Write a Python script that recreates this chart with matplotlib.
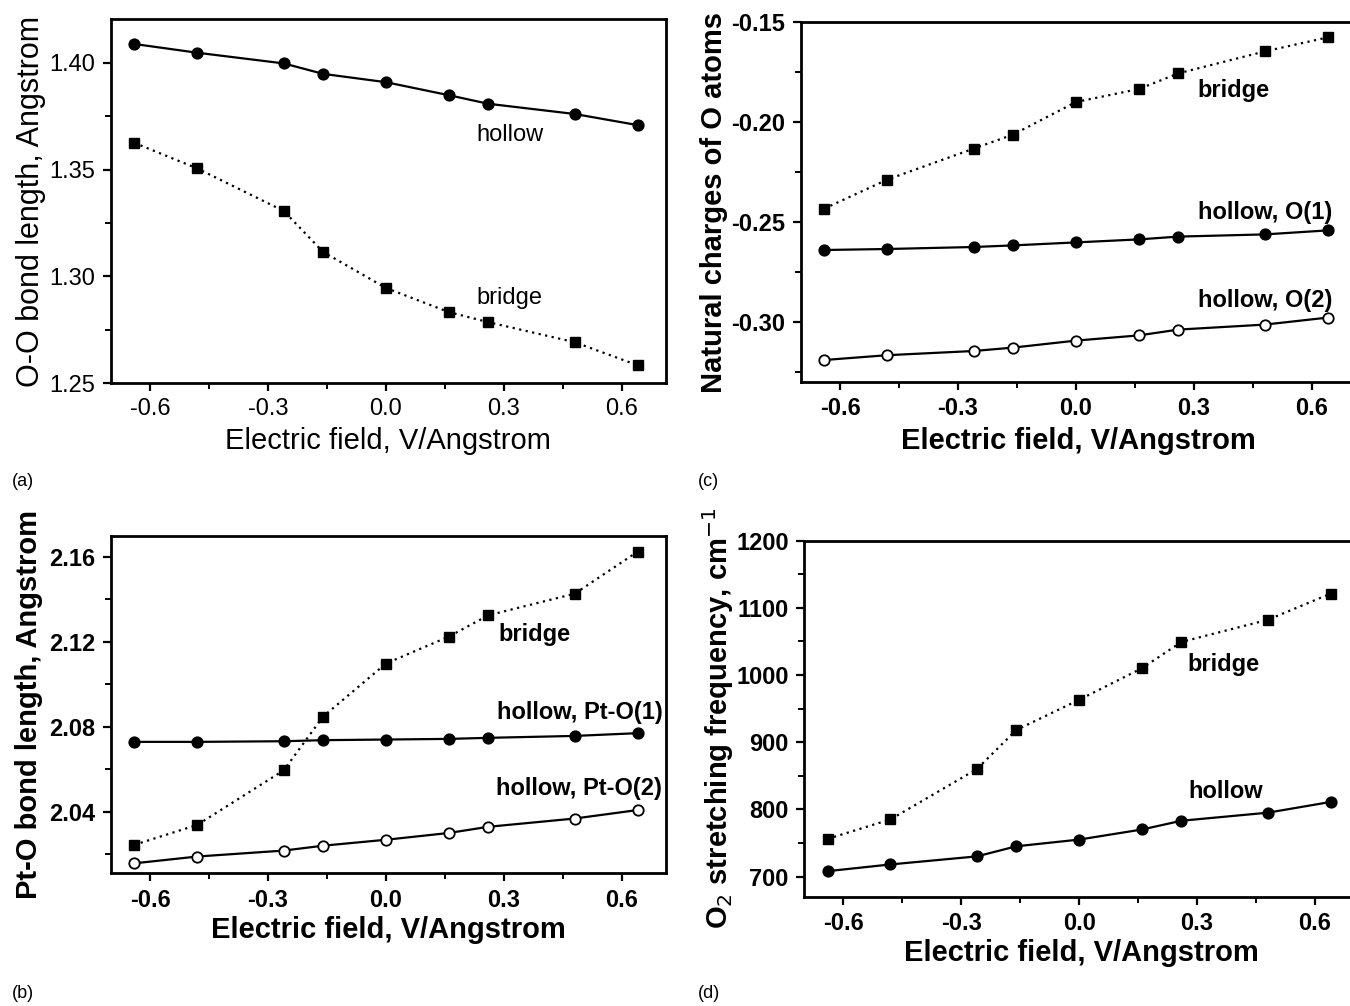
import numpy as np
import matplotlib
matplotlib.use("Agg")
import matplotlib.pyplot as plt
from matplotlib.ticker import MultipleLocator, FormatStrFormatter

plt.rcParams['font.family'] = ['Liberation Sans', 'DejaVu Sans']

# electric field values (V/Angstrom)
field = [-0.64, -0.48, -0.26, -0.16, 0.0, 0.16, 0.26, 0.48, 0.64]

# (a) O-O bond length
oo_hollow = [1.4088, 1.4047, 1.3997, 1.3948, 1.3909, 1.3848, 1.3808, 1.3760, 1.3708]
oo_bridge = [1.3625, 1.3505, 1.3306, 1.3114, 1.2945, 1.2832, 1.2785, 1.2691, 1.2583]

# (b) Pt-O bond length
pto_bridge = [2.0244, 2.0338, 2.0595, 2.0848, 2.1098, 2.1225, 2.1325, 2.1427, 2.1625]
pto_hollow1 = [2.0729, 2.0729, 2.0732, 2.0737, 2.0740, 2.0743, 2.0748, 2.0757, 2.0770]
pto_hollow2 = [2.0157, 2.0189, 2.0217, 2.0240, 2.0268, 2.0300, 2.0329, 2.0368, 2.0408]

# (c) natural charges of O atoms
q_bridge = [-0.2433, -0.2288, -0.2133, -0.2063, -0.1900, -0.1835, -0.1757, -0.1647, -0.1577]
q_hollow1 = [-0.2640, -0.2635, -0.2625, -0.2617, -0.2602, -0.2587, -0.2573, -0.2562, -0.2542]
q_hollow2 = [-0.3190, -0.3166, -0.3145, -0.3128, -0.3093, -0.3067, -0.3038, -0.3013, -0.2978]

# (d) O2 stretching frequency
f_bridge = [756, 785, 860, 918, 963, 1010, 1049, 1082, 1121]
f_hollow = [708, 718, 730, 745, 755, 770, 783, 795, 811]

fig = plt.figure(figsize=(13.5, 10.06), dpi=100)
W, H = 1350.0, 1006.0


def make_axes(left, top, right, bottom):
    return fig.add_axes([left / W, 1 - bottom / H, (right - left) / W, (bottom - top) / H])


ax_a = make_axes(110.7, 19, 666, 383)
ax_c = make_axes(800.7, 22, 1356, 382)
ax_b = make_axes(110.7, 535.7, 666, 873.3)
ax_d = make_axes(804, 540.5, 1359, 896.7)

bold = 'bold'


def style(ax, ylim, major, fmt, ylabel, weight, ylab_x, xlab_y, ylab_size=21):
    ax.set_xlim(-0.70, 0.712)
    ax.set_ylim(*ylim)
    ax.xaxis.set_major_locator(MultipleLocator(0.3))
    ax.xaxis.set_minor_locator(MultipleLocator(0.15))
    ax.xaxis.set_major_formatter(FormatStrFormatter('%.1f'))
    ax.yaxis.set_major_locator(MultipleLocator(major))
    ax.yaxis.set_minor_locator(MultipleLocator(major / 2))
    ax.yaxis.set_major_formatter(FormatStrFormatter(fmt))
    ax.tick_params(which='major', direction='out', length=6, width=1.6,
                   labelsize=17, pad=5, top=False, right=False)
    ax.tick_params(which='minor', direction='out', length=4, width=1.4,
                   top=False, right=False)
    for lab in ax.get_xticklabels() + ax.get_yticklabels():
        lab.set_fontweight(weight)
    for sp in ax.spines.values():
        sp.set_linewidth(2.0)
    ax.set_xlabel('Electric field, V/Angstrom', fontsize=21, fontweight=weight)
    ax.set_ylabel(ylabel, fontsize=ylab_size, fontweight=weight)
    ax.yaxis.set_label_coords(ylab_x, 0.5)
    ax.xaxis.set_label_coords(0.5, xlab_y)


def dotted(ax, y):
    ax.plot(field, y, color='black', linestyle=(0, (1, 2)), linewidth=1.6,
            marker='s', markersize=6.5, markerfacecolor='black', zorder=3)


def solid(ax, y, filled=True):
    ax.plot(field, y, color='black', linestyle='-', linewidth=1.6,
            marker='o', markersize=7.5,
            markerfacecolor='black' if filled else 'white',
            markeredgewidth=1.3, zorder=3)


ann = 17

# (a)
solid(ax_a, oo_hollow)
dotted(ax_a, oo_bridge)
style(ax_a, (1.25, 1.4205), 0.05, '%.2f', 'O-O bond length, Angstrom', 'normal', -0.117, -0.12, 22)
ax_a.text(0.23, 1.366, 'hollow', fontsize=ann, va='center')
ax_a.text(0.23, 1.290, 'bridge', fontsize=ann, va='center')

# (c)
dotted(ax_c, q_bridge)
solid(ax_c, q_hollow1)
solid(ax_c, q_hollow2, filled=False)
style(ax_c, (-0.33, -0.15), 0.05, '%.2f', 'Natural charges of O atoms', bold, -0.131, -0.125)
ax_c.text(0.31, -0.184, 'bridge', fontsize=ann, fontweight=bold, va='center')
ax_c.text(0.31, -0.2453, 'hollow, O(1)', fontsize=ann, fontweight=bold, va='center')
ax_c.text(0.31, -0.2895, 'hollow, O(2)', fontsize=ann, fontweight=bold, va='center')

# (b)
dotted(ax_b, pto_bridge)
solid(ax_b, pto_hollow1)
solid(ax_b, pto_hollow2, filled=False)
style(ax_b, (2.011, 2.170), 0.04, '%.2f', 'Pt-O bond length, Angstrom', bold, -0.122, -0.125)
ax_b.text(0.285, 2.1237, 'bridge', fontsize=ann, fontweight=bold, va='center')
ax_b.text(0.283, 2.0868, 'hollow, Pt-O(1)', fontsize=ann, fontweight=bold, va='center')
ax_b.text(0.28, 2.0511, 'hollow, Pt-O(2)', fontsize=ann, fontweight=bold, va='center')

# (d)
dotted(ax_d, f_bridge)
solid(ax_d, f_hollow)
style(ax_d, (670, 1200), 100, '%d', r'O$_2$ stretching frequency, cm$^{-1}$', bold, -0.1225, -0.12)
ax_d.text(0.275, 1015, 'bridge', fontsize=ann, fontweight=bold, va='center')
ax_d.text(0.277, 826, 'hollow', fontsize=ann, fontweight=bold, va='center')

# panel letters
for lbl, x, y in [('(a)', 12, 481), ('(c)', 698, 481), ('(b)', 12, 993), ('(d)', 698, 993)]:
    fig.text(x / W, 1 - y / H, lbl, fontsize=13, va='center', ha='left')

fig.savefig('out.png', dpi=100)
